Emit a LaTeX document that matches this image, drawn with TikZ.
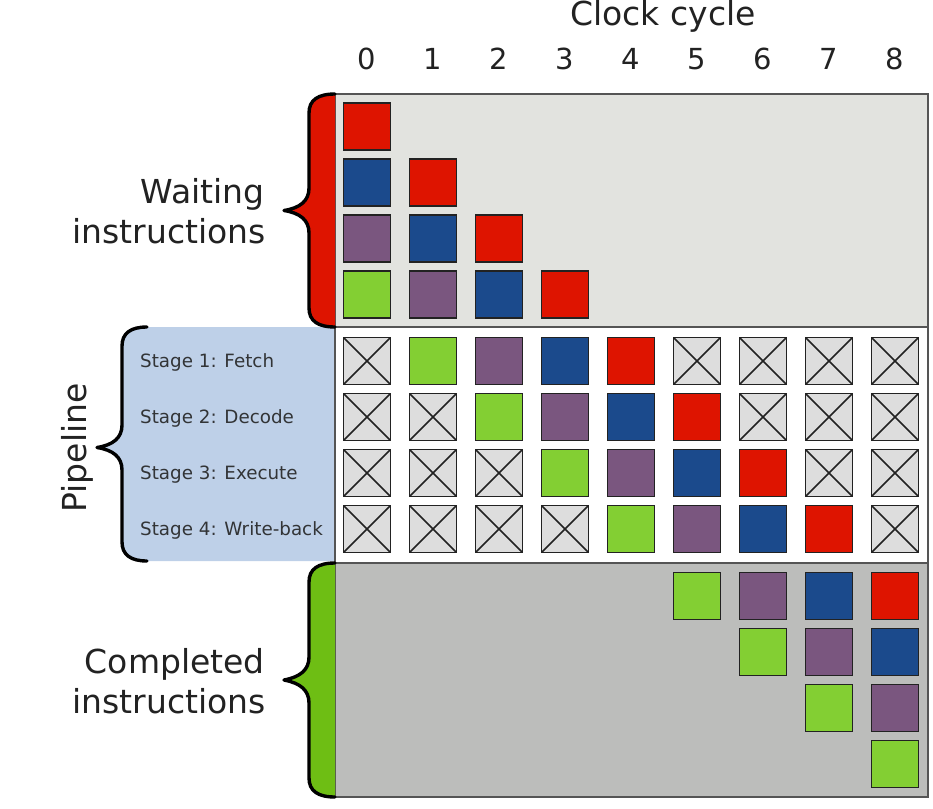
\documentclass[tikz,border=0pt]{standalone}
\usepackage{fontspec}
\setmainfont{DejaVu Sans}
\definecolor{cred}{HTML}{DE1400}
\definecolor{cblue}{HTML}{1B4A8C}
\definecolor{cpurple}{HTML}{7A567F}
\definecolor{cgreen}{HTML}{83CF33}
\colorlet{c0}{cgreen}
\colorlet{c1}{cpurple}
\colorlet{c2}{cblue}
\colorlet{c3}{cred}
\definecolor{waitbg}{HTML}{E2E3DF}
\definecolor{donebg}{HTML}{BCBDBB}
\definecolor{pipebg}{HTML}{BED0E8}
\definecolor{crossbg}{HTML}{DDDDDD}
\definecolor{bracegreen}{HTML}{6EBE14}
\definecolor{ink}{HTML}{222222}
\definecolor{frame}{HTML}{555555}
\begin{document}
\begin{tikzpicture}[x=1pt,y=-1pt,
  instr/.style={draw=ink,line width=1.8pt,minimum size=47pt,inner sep=0pt,fill=#1},
  crossbox/.style={instr=crossbg,path picture={
    \draw[ink,line width=1.5pt] (path picture bounding box.north west) -- (path picture bounding box.south east)
      (path picture bounding box.north east) -- (path picture bounding box.south west);}},
  panel/.style={draw=frame,line width=1.5pt,fill=#1},
  bracepath/.style={draw=black,line width=3.4pt,line cap=round,line join=round},
  bigtext/.style={font=\fontsize{33}{40}\selectfont,text=ink,inner sep=0pt},
  digit/.style={font=\fontsize{29}{34}\selectfont,text=ink,inner sep=0pt,anchor=base},
  stagetext/.style={font=\fontsize{18.3}{22}\selectfont,text=ink!90!pipebg,inner sep=0pt,anchor=base west}]
\useasboundingbox (0,0) rectangle (933,808);
% panels
\path[panel=waitbg] (335,94) rectangle (928,327);
\path[panel=donebg] (335,563) rectangle (928,797);
% pipeline blue label area
\fill[pipebg] (147,327) .. controls (131,327) and (122,333) .. (122,346) -- (122,425)
  .. controls (122,438) and (113,445) .. (97,447.5) .. controls (113,450) and (122,457) .. (122,470)
  -- (122,542) .. controls (122,555) and (131,561) .. (147,561) -- (335,561) -- (335,327) -- cycle;
\path[panel=white] (335,327) rectangle (928,563);
% braces
\fill[cred] (335,94) .. controls (318,94) and (309,100) .. (309,113) -- (309,188)
  .. controls (309,201) and (300,208) .. (284,210.5) .. controls (300,213) and (309,220) .. (309,233)
  -- (309,308) .. controls (309,321) and (318,327) .. (335,327) -- cycle;
\path[bracepath] (335,94) .. controls (318,94) and (309,100) .. (309,113) -- (309,188)
  .. controls (309,201) and (300,208) .. (284,210.5) .. controls (300,213) and (309,220) .. (309,233)
  -- (309,308) .. controls (309,321) and (318,327) .. (335,327);
\path[bracepath] (147,327) .. controls (131,327) and (122,333) .. (122,346) -- (122,425)
  .. controls (122,438) and (113,445) .. (97,447.5) .. controls (113,450) and (122,457) .. (122,470)
  -- (122,542) .. controls (122,555) and (131,561) .. (147,561);
\fill[bracegreen] (335,563) .. controls (318,563) and (309,569) .. (309,582) -- (309,657)
  .. controls (309,670) and (300,677) .. (284,680) .. controls (300,683) and (309,690) .. (309,703)
  -- (309,778) .. controls (309,791) and (318,797) .. (335,797) -- cycle;
\path[bracepath] (335,563) .. controls (318,563) and (309,569) .. (309,582) -- (309,657)
  .. controls (309,670) and (300,677) .. (284,680) .. controls (300,683) and (309,690) .. (309,703)
  -- (309,778) .. controls (309,791) and (318,797) .. (335,797);
% header
\node[bigtext,anchor=base] (clock) at (663,26) {Clock cycle};
\foreach \c in {0,...,8}{
  \node[digit] (n\c) at ({367+66*\c},70) {\c};
}
% side labels
\node[bigtext,anchor=base east] (wait1) at (265,203) {Waiting};
\node[bigtext,anchor=base east] (wait2) at (266,243) {instructions};
\node[bigtext,anchor=base east] (done1) at (265,673) {Completed};
\node[bigtext,anchor=base east] (done2) at (266,713) {instructions};
\node[bigtext,anchor=base,rotate=90] (pipe) at (86,448) {Pipeline};
\node[stagetext] (s0) at (140,367) {Stage 1: Fetch};
\node[stagetext] (s1) at (140,423) {Stage 2: Decode};
\node[stagetext] (s2) at (140,479) {Stage 3: Execute};
\node[stagetext] (s3) at (140,535) {Stage 4: Write-back};
% waiting instructions
\foreach \r in {0,...,3}{
  \foreach \c in {0,...,\r}{
    \pgfmathtruncatemacro\k{3-\r+\c}
    \node[instr=c\k] (w-\r-\c) at ({367+66*\c},{126.5+56*\r}) {};
  }
}
% pipeline
\foreach \s in {0,...,3}{
  \foreach \c in {0,...,8}{
    \pgfmathtruncatemacro\k{\c-\s-1}
    \ifnum\k<0
      \node[crossbox] (p-\s-\c) at ({367+66*\c},{361+56*\s}) {};
    \else\ifnum\k>3
      \node[crossbox] (p-\s-\c) at ({367+66*\c},{361+56*\s}) {};
    \else
      \node[instr=c\k] (p-\s-\c) at ({367+66*\c},{361+56*\s}) {};
    \fi\fi
  }
}
% completed instructions
\foreach \c in {5,...,8}{
  \pgfmathtruncatemacro\m{\c-5}
  \foreach \r in {0,...,\m}{
    \pgfmathtruncatemacro\k{\c-5-\r}
    \node[instr=c\k] (d-\r-\c) at ({367+66*\c},{596+56*\r}) {};
  }
}
\end{tikzpicture}
\end{document}
